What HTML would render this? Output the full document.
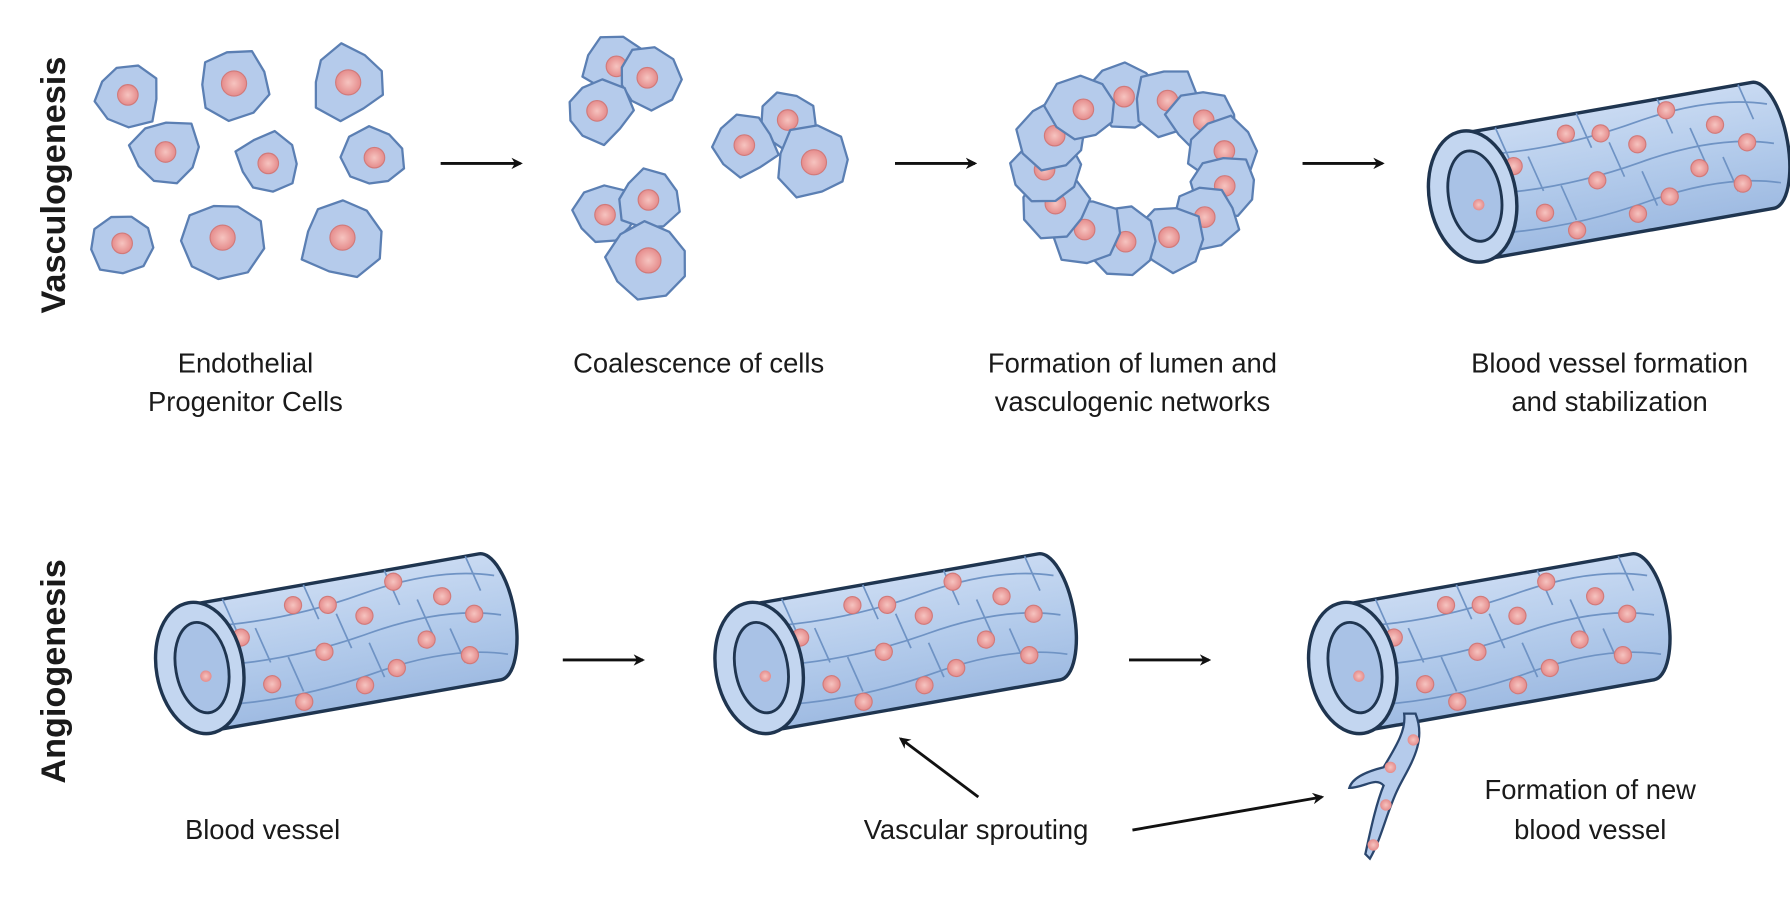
<!DOCTYPE html>
<html><head><meta charset="utf-8">
<style>
html,body{margin:0;padding:0;background:#fff;}
svg{display:block;}
text{font-family:"Liberation Sans",sans-serif;fill:#1a1a1a;}
</style></head>
<body>
<svg id="s" width="1790" height="909" viewBox="0 0 1568 796" xmlns="http://www.w3.org/2000/svg">
<defs>
<marker id="ah" markerWidth="10" markerHeight="10" refX="8" refY="5" orient="auto" markerUnits="userSpaceOnUse">
<path d="M0,0 L10,5 L0,10 L3,5 Z" fill="#111"/></marker>
<radialGradient id="nuc"><stop offset="0" stop-color="#f6c4c0"/><stop offset="1" stop-color="#e58c8c"/></radialGradient>
<linearGradient id="tube" x1="0" y1="0" x2="0" y2="1"><stop offset="0" stop-color="#c9daf2"/><stop offset="0.5" stop-color="#b3cbeb"/><stop offset="1" stop-color="#9fbbe2"/></linearGradient>
</defs>
<g id="cells"></g>
<g id="vessels"></g>
<g stroke="#111" stroke-width="2.5" fill="none" marker-end="url(#ah)">
<line x1="386" y1="143" x2="456" y2="143"/>
<line x1="784" y1="143" x2="854" y2="143"/>
<line x1="1141" y1="143" x2="1211" y2="143"/>
<line x1="493" y1="578" x2="563" y2="578"/>
<line x1="989" y1="578" x2="1059" y2="578"/>
<line x1="857" y1="698" x2="789" y2="647"/>
<line x1="992" y1="727" x2="1158" y2="698"/>
</g>
<text x="57" y="162" font-size="30" font-weight="bold" text-anchor="middle" transform="rotate(-90 57 162)">Vasculogenesis</text>
<text x="57" y="588" font-size="30" font-weight="bold" text-anchor="middle" transform="rotate(-90 57 588)">Angiogenesis</text>
<g font-size="24" text-anchor="middle">
<text x="215" y="326">Endothelial</text>
<text x="215" y="360">Progenitor Cells</text>
<text x="612" y="326">Coalescence of cells</text>
<text x="992" y="326">Formation of lumen and</text>
<text x="992" y="360">vasculogenic networks</text>
<text x="1410" y="326">Blood vessel formation</text>
<text x="1410" y="360">and stabilization</text>
<text x="230" y="735">Blood vessel</text>
<text x="855" y="735">Vascular sprouting</text>
<text x="1393" y="700">Formation of new</text>
<text x="1393" y="735">blood vessel</text>
</g>
</svg>
<script>
var NS="http://www.w3.org/2000/svg";
function el(t,a,p){var e=document.createElementNS(NS,t);for(var k in a)e.setAttribute(k,a[k]);p.appendChild(e);return e;}
var seed=7;function rnd(){seed=(seed*9301+49297)%233280;return seed/233280;}
var cg=document.getElementById('cells');
function cell(x,y,r,nr){
 var n=9,pts=[];var off=rnd()*6;
 for(var i=0;i<n;i++){var a=off+i*2*Math.PI/n;var rr=r*(0.82+rnd()*0.3);pts.push((x+Math.cos(a)*rr).toFixed(1)+","+(y+Math.sin(a)*rr*0.95).toFixed(1));}
 el('polygon',{points:pts.join(' '),fill:'#b5cbeb',stroke:'#5b7fb3','stroke-width':2,'stroke-linejoin':'round'},cg);
 el('circle',{cx:x,cy:y,r:nr||9,fill:'url(#nuc)',stroke:'#d07a7a','stroke-width':1},cg);
}
[[112,83,30],[205,73,33],[305,72,33],[145,133,31],[235,143,28],[328,138,29],[107,213,29],[195,208,35],[300,208,37]].forEach(function(c){cell(c[0],c[1],c[2],c[2]>32?11:9)});
[[540,58,28],[567,68,28],[523,97,30],[690,105,28],[652,127,30],[713,142,33],[530,188,29],[568,175,27],[568,228,34]].forEach(function(c){cell(c[0],c[1],c[2],c[2]>31?11:9)});
var cx=995,cy=148;
for(var i=0;i<13;i++){var a=i*2*Math.PI/13-1.7;cell(cx+Math.cos(a)*80,cy+Math.sin(a)*64,31,9);}
var vg=document.getElementById('vessels');
function vessel(x,y,s){
 var g=el('g',{transform:'translate('+x+','+y+') rotate(-10) scale('+(s||1)+')'},vg);
 var L=258,R=56;
 el('path',{d:'M0,'+(-R)+' L'+L+','+(-R)+' A22,'+R+' 0 0 1 '+L+','+R+' L0,'+R+' Z',fill:'url(#tube)',stroke:'#1f3550','stroke-width':3},g);
 for(var r=-1;r<=1;r++){el('path',{d:'M10,'+(r*35)+' Q80,'+(r*35+8)+' 150,'+(r*35-4)+' T'+(L+10)+','+(r*35),fill:'none',stroke:'#6f93c4','stroke-width':1.5},g);}
 for(var k=0;k<10;k++){var xx=30+k*24;el('line',{x1:xx,y1:-R+((k%3)*30),x2:xx+8,y2:-R+((k%3)*30)+32,stroke:'#6f93c4','stroke-width':1.5},g);}
 var nps=[[40,-20],[60,25],[90,-40],[110,5],[140,40],[150,-20],[180,-45],[200,10],[220,-25],[235,30],[85,45],[170,30],[120,-35],[245,-5]];
 nps.forEach(function(p){el('circle',{cx:p[0],cy:p[1],r:7.5,fill:'url(#nuc)',stroke:'#d07a7a','stroke-width':1},g);});
 el('ellipse',{cx:0,cy:0,rx:38,ry:R+2,fill:'#c3d6f0',stroke:'#1f3550','stroke-width':3},g);
 el('ellipse',{cx:2,cy:0,rx:23,ry:40,fill:'#a9c2e6',stroke:'#1f3550','stroke-width':2.5},g);
 el('circle',{cx:4,cy:8,r:5,fill:'url(#nuc)'},g);
}
vessel(175,585);vessel(665,585);vessel(1185,585);vessel(1290,172);
el('path',{d:'M1240,625 C1250,650 1235,670 1225,690 C1215,710 1210,735 1200,752 L1196,748 C1200,730 1205,705 1212,688 C1205,680 1195,690 1182,690 C1185,680 1200,675 1212,672 C1222,655 1232,640 1230,625 Z',fill:'#b5cbeb',stroke:'#2a466d','stroke-width':2},vg);
[[1238,648],[1218,672],[1214,705],[1203,740]].forEach(function(p){el('circle',{cx:p[0],cy:p[1],r:5,fill:'url(#nuc)'},vg);});
</script>
</body></html>
